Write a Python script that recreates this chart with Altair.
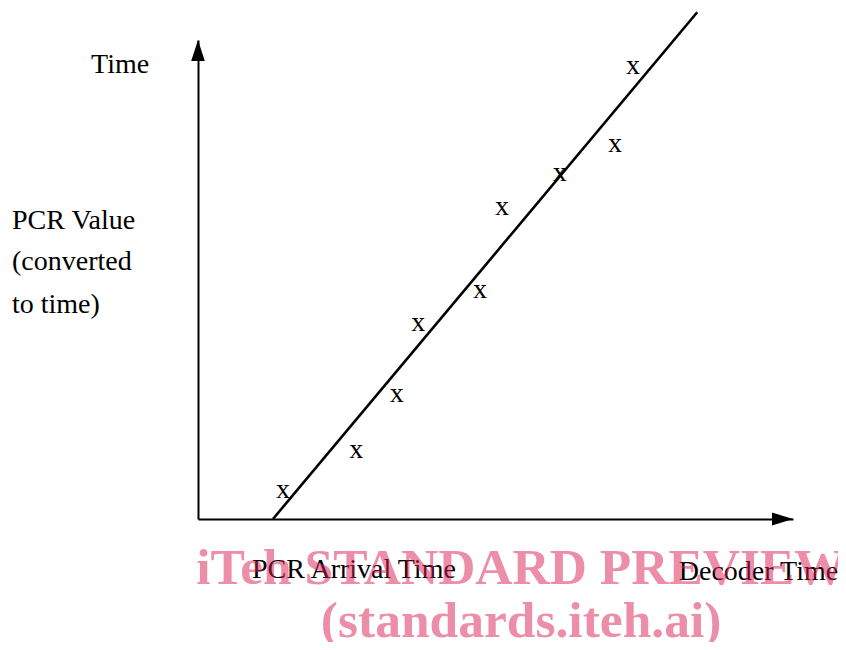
import altair as alt
import pandas as pd

# Schematic units: x = decoder time (0..10), y = PCR value converted to time (0..10)
pcr_x = [1.43, 2.66, 3.34, 3.70, 4.74, 5.11, 6.08, 7.01, 7.31]
pcr_y = [0.56, 1.40, 2.57, 4.05, 4.74, 6.47, 7.18, 7.79, 9.42]

line_x = [1.26, 8.39]
line_y = [0.0, 10.58]

arrow_x = [10.0, 0.0]
arrow_y = [0.0, 10.0]
arrow_dir = ["right", "up"]

label_text = ["Time", "PCR Value", "(converted", "to time)", "PCR Arrival Time", "Decoder Time"]
label_x = [-1.31, -3.126, -3.126, -3.126, 0.908, 9.42]
label_y = [9.31, 6.06, 5.19, 4.31, -1.23, -1.27]
label_align = ["center", "left", "left", "left", "left", "center"]

wm_text = ["iTeh STANDARD PREVIEW", "(standards.iteh.ai)"]
wm_x = [5.43, 5.43]
wm_y = [-1.36, -2.46]

FONT = "Liberation Serif"

xs = alt.Scale(domain=[0, 10], nice=False, zero=False)
ys = alt.Scale(domain=[0, 10], nice=False, zero=False)

pts = pd.DataFrame({"x": pcr_x, "y": pcr_y, "m": ["x"] * len(pcr_x)})
ln = pd.DataFrame({"x": line_x, "y": line_y})
arr = pd.DataFrame({"x": arrow_x, "y": arrow_y, "dir": arrow_dir})
lab = pd.DataFrame({"t": label_text, "x": label_x, "y": label_y, "a": label_align})
wm = pd.DataFrame({"t": wm_text, "x": wm_x, "y": wm_y})

ax_x = alt.Axis(domain=True, ticks=False, labels=False, grid=False, title=None,
                domainColor="black", domainWidth=2)
ax_y = alt.Axis(domain=True, ticks=False, labels=False, grid=False, title=None,
                domainColor="black", domainWidth=2)

base_line = alt.Chart(ln).mark_line(color="black", strokeWidth=2.6, clip=False).encode(
    x=alt.X("x:Q", scale=xs, axis=ax_x),
    y=alt.Y("y:Q", scale=ys, axis=ax_y),
)

markers = alt.Chart(pts).mark_text(font=FONT, fontSize=28, color="black",
                                   baseline="alphabetic", dy=6).encode(
    x=alt.X("x:Q", scale=xs), y=alt.Y("y:Q", scale=ys), text="m:N")

right_arrow = alt.Chart(arr[arr.dir == "right"]).mark_point(
    shape="M0,0L-2,-0.62L-2,0.62Z", size=441, filled=True, color="black",
    opacity=1, strokeWidth=0).encode(x=alt.X("x:Q", scale=xs), y=alt.Y("y:Q", scale=ys))
up_arrow = alt.Chart(arr[arr.dir == "up"]).mark_point(
    shape="M0,0L-0.65,2L0.65,2Z", size=441, filled=True, color="black",
    opacity=1, strokeWidth=0).encode(x=alt.X("x:Q", scale=xs), y=alt.Y("y:Q", scale=ys))

labels_left = alt.Chart(lab[lab.a == "left"]).mark_text(
    font=FONT, fontSize=28, color="black", align="left", baseline="alphabetic").encode(
    x=alt.X("x:Q", scale=xs), y=alt.Y("y:Q", scale=ys), text="t:N")
labels_center = alt.Chart(lab[lab.a == "center"]).mark_text(
    font=FONT, fontSize=28, color="black", align="center", baseline="alphabetic").encode(
    x=alt.X("x:Q", scale=xs), y=alt.Y("y:Q", scale=ys), text="t:N")

watermark = alt.Chart(wm).mark_text(
    font=FONT, fontSize=51.5, fontWeight="bold", color="#DD1F55", opacity=0.5,
    align="center", baseline="alphabetic").encode(
    x=alt.X("x:Q", scale=xs), y=alt.Y("y:Q", scale=ys), text="t:N")

chart = alt.layer(
    base_line, markers, right_arrow, up_arrow, labels_left, labels_center, watermark
).properties(
    width=595, height=479,
    autosize=alt.AutoSizeParams(type="none"),
    padding={"left": 190, "top": 32, "right": 45, "bottom": 123},
    background="white",
).configure_view(stroke=None)

chart.save("out.html", embed_options={"renderer": "svg", "actions": False})
